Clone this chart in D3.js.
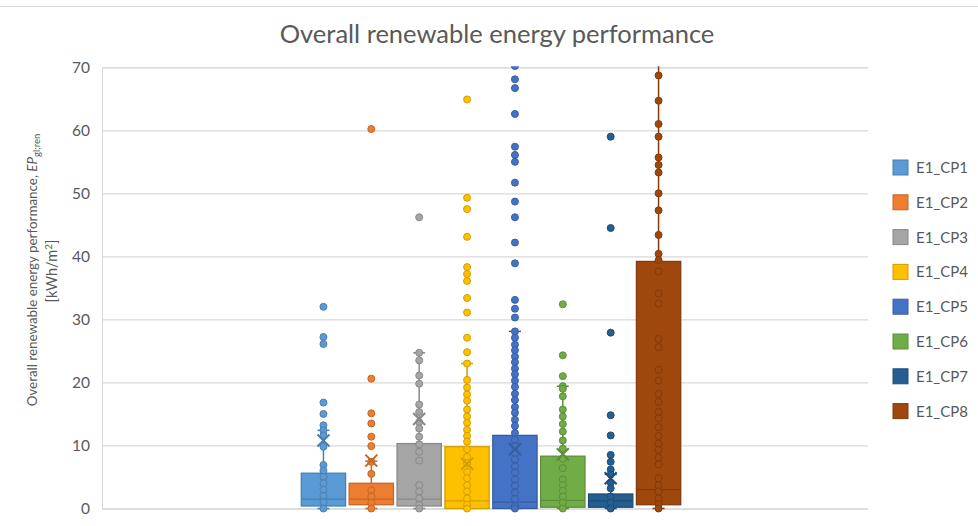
<!DOCTYPE html>
<html>
<head>
<meta charset="utf-8">
<script src="https://cdn.jsdelivr.net/npm/d3@7"></script>
<style>
  body { margin: 0; background: #fff; }
  text { font-family: Lato, "Open Sans", sans-serif; fill: #595959; }
</style>
</head>
<body>
<div id="chart"></div>
<script>
// series names and colours
var seriesNames = ["E1_CP1", "E1_CP2", "E1_CP3", "E1_CP4", "E1_CP5", "E1_CP6", "E1_CP7", "E1_CP8"];
var seriesColors = ["#5B9BD5", "#ED7D31", "#A5A5A5", "#FFC000", "#4472C4", "#70AD47", "#255E91", "#9E480E"];
var yTicks = [0, 10, 20, 30, 40, 50, 60, 70];

// box statistics
var whiskerLow = [0, 0, 0, 0, 0, 0, 0, 0];
var q1 = [0.4, 0.6, 0.4, 0, 0, 0.2, 0.2, 0.6];
var median = [1.5, 1.5, 1.5, 1.2, 1.0, 1.3, 1.2, 3.0];
var q3 = [5.6, 4.0, 10.3, 9.8, 11.6, 8.3, 2.3, 39.2];
var whiskerHigh = [12.4, 7.5, 24.7, 23.0, 28.1, 19.4, 5.4, 72];
var means = [10.8, 7.6, 14.2, 7.1, 9.4, 8.6, 4.8, null];

// data points
var cp1Points = [32.0, 27.2, 26.1, 16.8, 15.0, 13.2, 12.4, 11.6, 9.8, 6.9, 6.0, 5.0, 4.0, 3.0, 2.0, 1.0, 0.0];
var cp2Points = [60.2, 20.6, 15.1, 13.5, 11.4, 9.9, 7.4, 5.5, 2.9, 1.9, 0.9, 0.0];
var cp3Points = [46.2, 24.7, 23.5, 21.1, 19.8, 16.5, 15.3, 13.7, 12.7, 11.4, 10.2, 9.0, 7.6, 3.7, 2.7, 1.6, 0.6, 0.0];
var cp4Points = [64.9, 49.3, 47.5, 43.1, 38.3, 37.2, 36.1, 33.4, 31.1, 27.1, 24.8, 23.0, 20.4, 19.2, 18.1, 17.1,
    15.7, 14.6, 13.6, 12.5, 11.5, 10.6, 9.4, 8.2, 7.2, 5.8, 4.8, 3.7, 2.7, 1.6, 0.6, 0.0];
var cp5Points = [70.2, 68.1, 66.7, 62.6, 57.4, 56.1, 55.0, 51.7, 48.7, 46.2, 42.2, 38.9, 33.1, 31.7, 30.3,
    28.1, 27.1, 26.0, 25.1, 24.1, 23.2, 22.2, 21.3, 20.3, 19.3, 18.2, 17.2, 16.1, 15.2, 14.1, 13.1, 12.0,
    10.9, 9.9, 8.8, 7.8, 6.7, 5.7, 4.6, 3.6, 2.5, 1.5, 0.4, 0.0];
var cp6Points = [32.4, 24.3, 21.0, 19.4, 19.0, 17.8, 15.7, 14.6, 13.4, 12.2, 10.8, 9.5, 7.9, 6.4, 4.6, 3.7, 2.8, 1.9, 0.9, 0.0];
var cp7Points = [59.0, 44.5, 27.9, 14.8, 11.6, 8.5, 7.4, 6.2, 5.4, 4.1, 3.2, 1.9, 0.9, 0.0];
var cp8Points = [68.7, 64.7, 61.0, 59.0, 55.7, 54.5, 53.3, 50.0, 47.3, 43.4, 40.4, 39.4, 37.6, 34.1, 32.5,
    26.9, 25.6, 22.0, 20.3, 18.2, 16.9, 15.3, 14.3, 12.9, 11.5, 10.3, 9.3, 8.1, 7.0, 4.8, 3.7, 2.7, 1.6, 0.7, 0.0];
var allPoints = [cp1Points, cp2Points, cp3Points, cp4Points, cp5Points, cp6Points, cp7Points, cp8Points];

var svgWidth = 978;
var svgHeight = 526;

var margin = { top: 67.3, right: 110, bottom: 17.5, left: 102 };
var width = svgWidth - margin.left - margin.right;
var height = svgHeight - margin.top - margin.bottom;

var svg = d3.select("#chart")
    .append("svg")
    .attr("width", svgWidth)
    .attr("height", svgHeight);

// thin chart border along the top
svg.append("line")
    .attr("x1", 0).attr("x2", svgWidth)
    .attr("y1", 6.5).attr("y2", 6.5)
    .attr("stroke", "#D9D9D9");

var chartGroup = svg.append("g")
    .attr("transform", `translate(${margin.left}, ${margin.top})`);

var yScale = d3.scaleLinear().domain([0, 70]).range([height, 0]);

// one category, gap width 100% -> series occupy the middle half
var xScale = d3.scaleBand()
    .domain(seriesNames)
    .range([width / 4 + 6, width * 3 / 4 + 6])
    .paddingInner(0.075)
    .paddingOuter(0.0375);

// gridlines + tick labels
var leftAxis = d3.axisLeft(yScale)
    .tickValues(yTicks)
    .tickSize(-width)
    .tickPadding(12);

var axisG = chartGroup.append("g").call(leftAxis);
axisG.select(".domain").attr("stroke", "#D9D9D9");
axisG.selectAll(".tick line").attr("stroke", "#D9D9D9").attr("stroke-width", 1.3);
axisG.selectAll(".tick text")
    .style("font-size", "15.5px")
    .style("font-family", "Lato, sans-serif")
    .attr("fill", "#595959");

chartGroup.append("clipPath")
    .attr("id", "plotClip")
    .append("rect")
    .attr("x", 0).attr("y", -1)
    .attr("width", width).attr("height", height + 10);

var plot = chartGroup.append("g").attr("clip-path", "url(#plotClip)");

var capW = 12;
var markR = 3.5;

seriesNames.forEach(function (name, i) {
    var color = seriesColors[i];
    var dark = d3.color(color).darker(0.55).formatHex();
    var cx = xScale(name) + xScale.bandwidth() / 2;
    var g = plot.append("g");

    // whiskers
    g.append("line")
        .attr("x1", cx).attr("x2", cx)
        .attr("y1", yScale(whiskerLow[i])).attr("y2", yScale(whiskerHigh[i]))
        .attr("stroke", dark).attr("stroke-width", 1.5);
    [whiskerLow[i], whiskerHigh[i]].forEach(function (v) {
        g.append("line")
            .attr("x1", cx - capW / 2).attr("x2", cx + capW / 2)
            .attr("y1", yScale(v)).attr("y2", yScale(v))
            .attr("stroke", dark).attr("stroke-width", 1.5);
    });

    // box
    g.append("rect")
        .attr("x", xScale(name))
        .attr("width", xScale.bandwidth())
        .attr("y", yScale(q3[i]))
        .attr("height", yScale(q1[i]) - yScale(q3[i]))
        .attr("fill", color)
        .attr("stroke", dark)
        .attr("stroke-width", 1.3);

    g.append("line")
        .attr("x1", xScale(name)).attr("x2", xScale(name) + xScale.bandwidth())
        .attr("y1", yScale(median[i])).attr("y2", yScale(median[i]))
        .attr("stroke", dark).attr("stroke-width", 1.3);

    // points
    g.selectAll("circle")
        .data(allPoints[i])
        .enter()
        .append("circle")
        .attr("cx", cx)
        .attr("cy", d => yScale(d))
        .attr("r", markR)
        .attr("fill", color)
        .attr("stroke", dark)
        .attr("stroke-width", 1);

    // mean marker
    if (means[i] !== null) {
        var my = yScale(means[i]);
        var s = 6;
        g.append("path")
            .attr("d", `M${cx - s},${my - s}L${cx + s},${my + s}M${cx - s},${my + s}L${cx + s},${my - s}`)
            .attr("stroke", dark)
            .attr("stroke-width", 2)
            .attr("fill", "none");
    }
});

// title
svg.append("text")
    .attr("x", 497)
    .attr("y", 43)
    .attr("text-anchor", "middle")
    .style("font-size", "25.5px")
    .text("Overall renewable energy performance");

// y axis label (two lines)
var yLabel = svg.append("text")
    .attr("transform", "translate(37, 270) rotate(-90)")
    .attr("text-anchor", "middle")
    .style("font-size", "13.4px");
yLabel.append("tspan").text("Overall renewable energy performance, ");
yLabel.append("tspan").style("font-style", "italic").text("EP");
yLabel.append("tspan").attr("dy", 3).style("font-size", "9.5px").text("gl;ren");

var yLabel2 = svg.append("text")
    .attr("transform", "translate(57, 271) rotate(-90)")
    .attr("text-anchor", "middle")
    .style("font-size", "14.5px");
yLabel2.append("tspan").text("[kWh/m");
yLabel2.append("tspan").attr("dy", -5).style("font-size", "10px").text("2");
yLabel2.append("tspan").attr("dy", 5).text("]");

// legend
var legend = svg.append("g").attr("transform", "translate(893, 160)");
var legendRows = legend.selectAll("g")
    .data(seriesNames)
    .enter()
    .append("g")
    .attr("transform", (d, i) => `translate(0, ${i * 34.8})`);

legendRows.append("rect")
    .attr("width", 15).attr("height", 15)
    .attr("fill", (d, i) => seriesColors[i])
    .attr("stroke", (d, i) => d3.color(seriesColors[i]).darker(0.55).formatHex());

legendRows.append("text")
    .attr("x", 23)
    .attr("y", 13)
    .style("font-size", "15px")
    .text(d => d);
</script>
</body>
</html>
